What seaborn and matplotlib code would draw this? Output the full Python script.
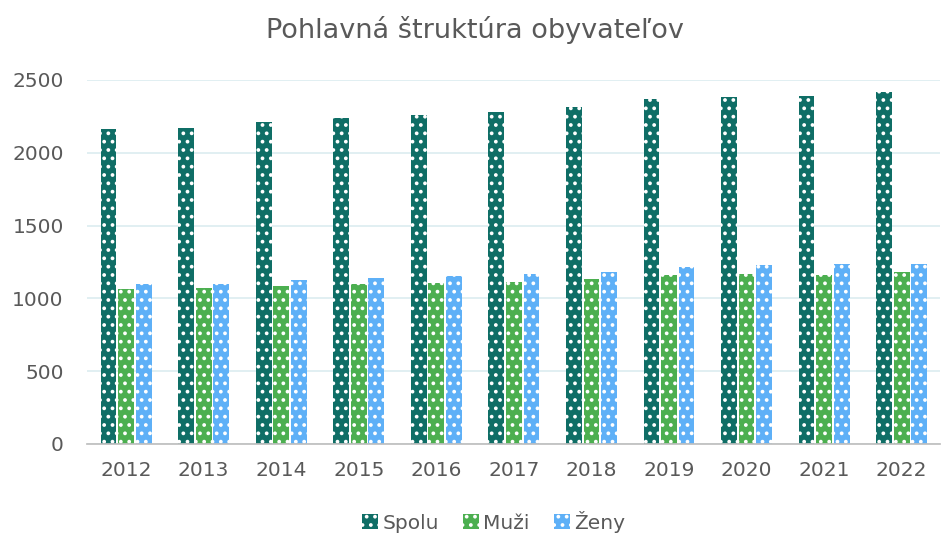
import matplotlib
matplotlib.use("Agg")
import matplotlib.pyplot as plt
import seaborn as sns
import pandas as pd

years = ["2012", "2013", "2014", "2015", "2016", "2017", "2018", "2019", "2020", "2021", "2022"]
spolu = [2163, 2170, 2211, 2239, 2260, 2280, 2315, 2370, 2383, 2390, 2418]
muzi = [1065, 1071, 1085, 1099, 1106, 1113, 1133, 1161, 1168, 1161, 1181]
zeny = [1099, 1099, 1126, 1140, 1154, 1168, 1181, 1216, 1229, 1236, 1236]
series = ["Spolu", "Muži", "Ženy"]
colors = ["#0f6e66", "#4caf50", "#5eb0f7"]

df = pd.DataFrame({
    "rok": years * 3,
    "hodnota": spolu + muzi + zeny,
    "séria": [series[0]] * 11 + [series[1]] * 11 + [series[2]] * 11,
})

sns.set_theme(style="white")
plt.rcParams["font.family"] = ["DejaVu Sans"]
plt.rcParams["hatch.linewidth"] = 1.5

fig = plt.figure(figsize=(9.49, 5.40), dpi=100)
ax = fig.add_axes([0.092, 0.178, 0.899, 0.674])

sns.barplot(data=df, x="rok", y="hodnota", hue="séria", palette=colors,
            width=0.68, gap=0.1, ax=ax, legend=True, saturation=1)

for p in ax.patches:
    p.set_hatch("..")
    p.set_edgecolor("white")
    p.set_linewidth(0)

ax.set_ylim(0, 2500)
ax.set_yticks([0, 500, 1000, 1500, 2000, 2500])
ax.yaxis.grid(True, color="#dcecf0", linewidth=1.2)
ax.set_axisbelow(True)
for s in ["top", "right", "left"]:
    ax.spines[s].set_visible(False)
ax.spines["bottom"].set_color("#bfbfbf")
ax.tick_params(axis="both", length=0, labelsize=14.5, colors="#595959")
ax.tick_params(axis="y", pad=17)
ax.tick_params(axis="x", pad=12)
ax.set_xlabel("")
ax.set_ylabel("")

fig.suptitle("Pohlavná štruktúra obyvateľov", y=0.97, fontsize=19.5, color="#595959")

handles, labels = ax.get_legend_handles_labels()
ax.get_legend().remove()
for h in handles:
    h.set_hatch("..")
    h.set_edgecolor("white")
    h.set_linewidth(0)
fig.legend(handles, labels, loc="lower center", bbox_to_anchor=(0.52, -0.02), ncol=3,
           frameon=False, fontsize=14.5, handlelength=0.8, handleheight=0.8,
           handletextpad=0.2, columnspacing=1.2, labelcolor="#595959")

fig.savefig("out.png", dpi=100)
